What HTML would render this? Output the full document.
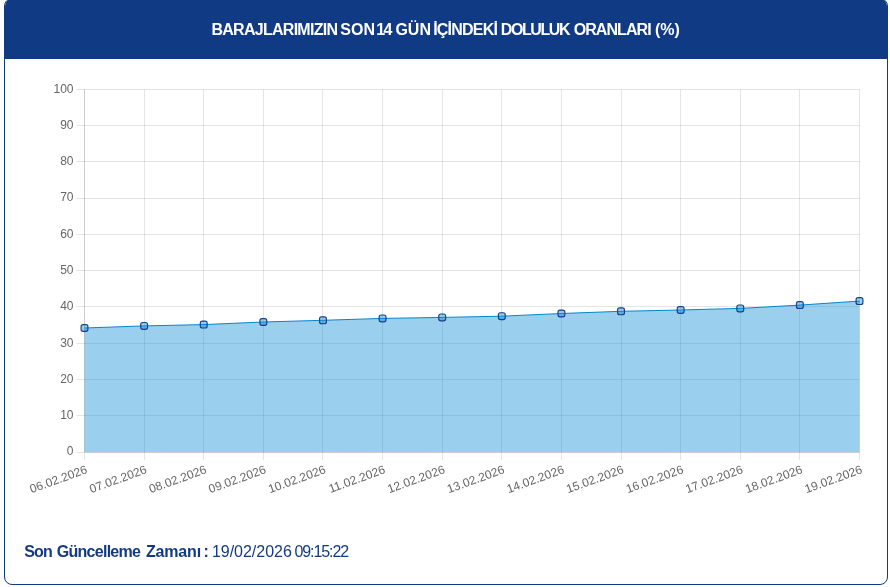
<!DOCTYPE html>
<html lang="tr"><head><meta charset="utf-8"><title>Baraj Doluluk</title>
<style>
html,body{margin:0;padding:0;background:#fff;}
body{width:890px;height:587px;position:relative;overflow:hidden;font-family:"Liberation Sans",sans-serif;}
.card{position:absolute;left:4px;top:-2px;width:884px;height:587px;box-sizing:border-box;border:1px solid #103a85;border-radius:8px;background:#fff;overflow:hidden;}
.head{position:absolute;left:-1px;top:-1px;width:884px;height:60.5px;background:#103b84;}
.hw{position:absolute;top:21.2px;color:#fff;font-weight:bold;font-size:16px;line-height:18px;white-space:nowrap;}
.htext,.foot{margin:0;padding:0;font-size:16px;font-weight:normal;}
.chart{position:absolute;left:0;top:0;}
.t{font-family:"Liberation Sans",sans-serif;font-size:12px;fill:#666;}
.fw{position:absolute;top:543px;font-size:16px;line-height:18px;color:#143b80;white-space:nowrap;}
.fw.b{font-weight:bold;}
</style></head><body>
<div class="card"><div class="head"></div></div>
<h2 class="htext"><span class="hw" style="left:211.40px;letter-spacing:-0.72px">BARAJLARIMIZIN</span> <span class="hw" style="left:340.20px;letter-spacing:0.10px">SON</span> <span class="hw" style="left:376.25px;letter-spacing:-1.60px">14</span> <span class="hw" style="left:395.40px;letter-spacing:0.00px">GÜN</span> <span class="hw" style="left:433.20px;letter-spacing:-0.79px">İÇİNDEKİ</span> <span class="hw" style="left:500.80px;letter-spacing:-1.42px">DOLULUK</span> <span class="hw" style="left:573.70px;letter-spacing:-0.93px">ORANLARI</span> <span class="hw" style="left:655.00px;letter-spacing:-0.05px">(%)</span></h2>
<svg class="chart" width="890" height="587" viewBox="0 0 890 587">
<line x1="84.5" y1="89.3" x2="84.5" y2="460.05" stroke="rgba(0,0,0,0.1)"/>
<line x1="144.5" y1="89.3" x2="144.5" y2="460.05" stroke="rgba(0,0,0,0.1)"/>
<line x1="203.5" y1="89.3" x2="203.5" y2="460.05" stroke="rgba(0,0,0,0.1)"/>
<line x1="263.5" y1="89.3" x2="263.5" y2="460.05" stroke="rgba(0,0,0,0.1)"/>
<line x1="322.5" y1="89.3" x2="322.5" y2="460.05" stroke="rgba(0,0,0,0.1)"/>
<line x1="382.5" y1="89.3" x2="382.5" y2="460.05" stroke="rgba(0,0,0,0.1)"/>
<line x1="442.5" y1="89.3" x2="442.5" y2="460.05" stroke="rgba(0,0,0,0.1)"/>
<line x1="501.5" y1="89.3" x2="501.5" y2="460.05" stroke="rgba(0,0,0,0.1)"/>
<line x1="561.5" y1="89.3" x2="561.5" y2="460.05" stroke="rgba(0,0,0,0.1)"/>
<line x1="621.5" y1="89.3" x2="621.5" y2="460.05" stroke="rgba(0,0,0,0.1)"/>
<line x1="680.5" y1="89.3" x2="680.5" y2="460.05" stroke="rgba(0,0,0,0.1)"/>
<line x1="740.5" y1="89.3" x2="740.5" y2="460.05" stroke="rgba(0,0,0,0.1)"/>
<line x1="799.5" y1="89.3" x2="799.5" y2="460.05" stroke="rgba(0,0,0,0.1)"/>
<line x1="859.5" y1="89.3" x2="859.5" y2="460.05" stroke="rgba(0,0,0,0.1)"/>
<line x1="76.5" y1="452.5" x2="859.5" y2="452.5" stroke="rgba(0,0,0,0.1)"/>
<line x1="76.5" y1="415.5" x2="859.5" y2="415.5" stroke="rgba(0,0,0,0.1)"/>
<line x1="76.5" y1="379.5" x2="859.5" y2="379.5" stroke="rgba(0,0,0,0.1)"/>
<line x1="76.5" y1="343.5" x2="859.5" y2="343.5" stroke="rgba(0,0,0,0.1)"/>
<line x1="76.5" y1="306.5" x2="859.5" y2="306.5" stroke="rgba(0,0,0,0.1)"/>
<line x1="76.5" y1="270.5" x2="859.5" y2="270.5" stroke="rgba(0,0,0,0.1)"/>
<line x1="76.5" y1="234.5" x2="859.5" y2="234.5" stroke="rgba(0,0,0,0.1)"/>
<line x1="76.5" y1="198.5" x2="859.5" y2="198.5" stroke="rgba(0,0,0,0.1)"/>
<line x1="76.5" y1="161.5" x2="859.5" y2="161.5" stroke="rgba(0,0,0,0.1)"/>
<line x1="76.5" y1="125.5" x2="859.5" y2="125.5" stroke="rgba(0,0,0,0.1)"/>
<line x1="76.5" y1="89.5" x2="859.5" y2="89.5" stroke="rgba(0,0,0,0.1)"/>
<line x1="84.5" y1="89.3" x2="84.5" y2="452.05" stroke="rgba(0,0,0,0.1)"/>
<line x1="84.5" y1="452.5" x2="859.5" y2="452.5" stroke="rgba(0,0,0,0.1)"/>
<polygon points="84.50,452.05 84.50,328.00 144.12,325.90 203.73,324.60 263.35,322.00 322.96,320.30 382.58,318.40 442.19,317.40 501.81,316.20 561.42,313.50 621.04,311.30 680.65,310.00 740.27,308.40 799.88,305.10 859.50,301.10 859.50,452.05" fill="rgba(2,136,209,0.4)"/>
<polyline points="84.50,328.00 144.12,325.90 203.73,324.60 263.35,322.00 322.96,320.30 382.58,318.40 442.19,317.40 501.81,316.20 561.42,313.50 621.04,311.30 680.65,310.00 740.27,308.40 799.88,305.10 859.50,301.10" fill="none" stroke="#0288d1" stroke-width="1"/>
<rect x="81.07" y="324.57" width="6.86" height="6.86" rx="2.06" fill="rgba(2,136,209,0.4)" stroke="#173d8d" stroke-width="1.15"/>
<rect x="140.69" y="322.47" width="6.86" height="6.86" rx="2.06" fill="rgba(2,136,209,0.4)" stroke="#173d8d" stroke-width="1.15"/>
<rect x="200.30" y="321.17" width="6.86" height="6.86" rx="2.06" fill="rgba(2,136,209,0.4)" stroke="#173d8d" stroke-width="1.15"/>
<rect x="259.92" y="318.57" width="6.86" height="6.86" rx="2.06" fill="rgba(2,136,209,0.4)" stroke="#173d8d" stroke-width="1.15"/>
<rect x="319.53" y="316.87" width="6.86" height="6.86" rx="2.06" fill="rgba(2,136,209,0.4)" stroke="#173d8d" stroke-width="1.15"/>
<rect x="379.15" y="314.97" width="6.86" height="6.86" rx="2.06" fill="rgba(2,136,209,0.4)" stroke="#173d8d" stroke-width="1.15"/>
<rect x="438.76" y="313.97" width="6.86" height="6.86" rx="2.06" fill="rgba(2,136,209,0.4)" stroke="#173d8d" stroke-width="1.15"/>
<rect x="498.38" y="312.77" width="6.86" height="6.86" rx="2.06" fill="rgba(2,136,209,0.4)" stroke="#173d8d" stroke-width="1.15"/>
<rect x="557.99" y="310.07" width="6.86" height="6.86" rx="2.06" fill="rgba(2,136,209,0.4)" stroke="#173d8d" stroke-width="1.15"/>
<rect x="617.61" y="307.87" width="6.86" height="6.86" rx="2.06" fill="rgba(2,136,209,0.4)" stroke="#173d8d" stroke-width="1.15"/>
<rect x="677.22" y="306.57" width="6.86" height="6.86" rx="2.06" fill="rgba(2,136,209,0.4)" stroke="#173d8d" stroke-width="1.15"/>
<rect x="736.84" y="304.97" width="6.86" height="6.86" rx="2.06" fill="rgba(2,136,209,0.4)" stroke="#173d8d" stroke-width="1.15"/>
<rect x="796.45" y="301.67" width="6.86" height="6.86" rx="2.06" fill="rgba(2,136,209,0.4)" stroke="#173d8d" stroke-width="1.15"/>
<rect x="856.07" y="297.67" width="6.86" height="6.86" rx="2.06" fill="rgba(2,136,209,0.4)" stroke="#173d8d" stroke-width="1.15"/>
<text class="t" x="73.5" y="455" text-anchor="end">0</text>
<text class="t" x="73.5" y="419" text-anchor="end">10</text>
<text class="t" x="73.5" y="383" text-anchor="end">20</text>
<text class="t" x="73.5" y="347" text-anchor="end">30</text>
<text class="t" x="73.5" y="310" text-anchor="end">40</text>
<text class="t" x="73.5" y="274" text-anchor="end">50</text>
<text class="t" x="73.5" y="238" text-anchor="end">60</text>
<text class="t" x="73.5" y="201" text-anchor="end">70</text>
<text class="t" x="73.5" y="165" text-anchor="end">80</text>
<text class="t" x="73.5" y="129" text-anchor="end">90</text>
<text class="t" x="73.5" y="93" text-anchor="end">100</text>
<text class="t" transform="translate(84.50,463.05) rotate(-19.8)" x="0" y="10.40" text-anchor="end">06.02.2026</text>
<text class="t" transform="translate(144.12,463.05) rotate(-19.8)" x="0" y="10.40" text-anchor="end">07.02.2026</text>
<text class="t" transform="translate(203.73,463.05) rotate(-19.8)" x="0" y="10.40" text-anchor="end">08.02.2026</text>
<text class="t" transform="translate(263.35,463.05) rotate(-19.8)" x="0" y="10.40" text-anchor="end">09.02.2026</text>
<text class="t" transform="translate(322.96,463.05) rotate(-19.8)" x="0" y="10.40" text-anchor="end">10.02.2026</text>
<text class="t" transform="translate(382.58,463.05) rotate(-19.8)" x="0" y="10.40" text-anchor="end">11.02.2026</text>
<text class="t" transform="translate(442.19,463.05) rotate(-19.8)" x="0" y="10.40" text-anchor="end">12.02.2026</text>
<text class="t" transform="translate(501.81,463.05) rotate(-19.8)" x="0" y="10.40" text-anchor="end">13.02.2026</text>
<text class="t" transform="translate(561.42,463.05) rotate(-19.8)" x="0" y="10.40" text-anchor="end">14.02.2026</text>
<text class="t" transform="translate(621.04,463.05) rotate(-19.8)" x="0" y="10.40" text-anchor="end">15.02.2026</text>
<text class="t" transform="translate(680.65,463.05) rotate(-19.8)" x="0" y="10.40" text-anchor="end">16.02.2026</text>
<text class="t" transform="translate(740.27,463.05) rotate(-19.8)" x="0" y="10.40" text-anchor="end">17.02.2026</text>
<text class="t" transform="translate(799.88,463.05) rotate(-19.8)" x="0" y="10.40" text-anchor="end">18.02.2026</text>
<text class="t" transform="translate(859.50,463.05) rotate(-19.8)" x="0" y="10.40" text-anchor="end">19.02.2026</text>
</svg>
<p class="foot"><span class="fw b" style="left:24.30px;letter-spacing:-0.85px">Son</span> <span class="fw b" style="left:56.80px;letter-spacing:-0.73px">Güncelleme</span> <span class="fw b" style="left:146.00px;letter-spacing:-0.18px">Zamanı</span> <span class="fw b" style="left:203.50px;letter-spacing:0.00px">:</span> <span class="fw" style="left:211.90px;letter-spacing:-0.02px">19/02/2026</span> <span class="fw" style="left:294.50px;letter-spacing:-1.09px">09:15:22</span></p>
</body></html>
